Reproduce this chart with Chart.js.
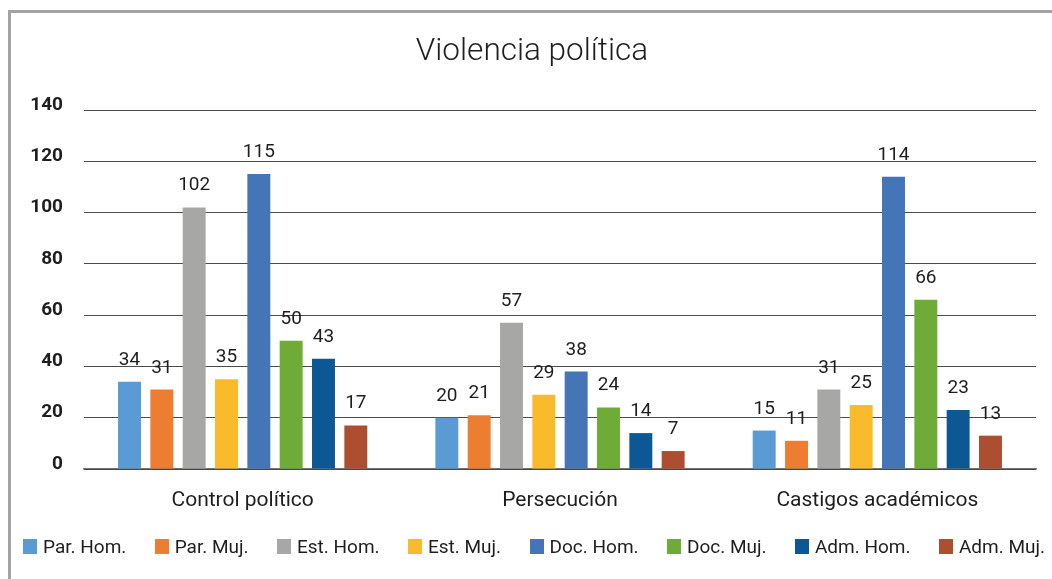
<!DOCTYPE html>
<html>
<head>
<meta charset="utf-8">
<script src="https://cdn.jsdelivr.net/npm/chart.js@4/dist/chart.umd.min.js"></script>
<style>
  html, body { margin: 0; padding: 0; background: #fff; overflow: hidden; }
  #wrap { position: relative; width: 1052px; height: 579px; }
  #frame { position: absolute; left: 8px; top: 10px; width: 1100px; height: 620px;
           border-top: 3px solid #a3a3a3; border-left: 3px solid #a3a3a3; pointer-events: none; }
  canvas { position: absolute; left: 0; top: 0; }
</style>
</head>
<body>
<div id="wrap">
  <canvas id="c" width="1052" height="579"></canvas>
  <div id="frame"></div>
</div>
<script>
const categories = ['Control político', 'Persecución', 'Castigos académicos'];
const seriesNames = ['Par. Hom.', 'Par. Muj.', 'Est. Hom.', 'Est. Muj.', 'Doc. Hom.', 'Doc. Muj.', 'Adm. Hom.', 'Adm. Muj.'];
const parHom = [34, 20, 15];
const parMuj = [31, 21, 11];
const estHom = [102, 57, 31];
const estMuj = [35, 29, 25];
const docHom = [115, 38, 114];
const docMuj = [50, 24, 66];
const admHom = [43, 14, 23];
const admMuj = [17, 7, 13];
const yTicks = [0, 20, 40, 60, 80, 100, 120, 140];
const colors = ['#5B9BD5', '#ED7D31', '#A7A7A6', '#F9BA2C', '#4375B7', '#6EAC37', '#0C5895', '#AC4F31'];

const seriesValues = [parHom, parMuj, estHom, estMuj, docHom, docMuj, admHom, admMuj];
const FONT = "Roboto, 'DejaVu Sans', sans-serif";

const valueLabels = {
  id: 'valueLabels',
  afterDatasetsDraw(chart) {
    const ctx = chart.ctx;
    ctx.save();
    ctx.font = '19px ' + FONT;
    ctx.fillStyle = '#1e1e1e';
    ctx.textAlign = 'center';
    ctx.textBaseline = 'alphabetic';
    chart.data.datasets.forEach((ds, di) => {
      const meta = chart.getDatasetMeta(di);
      meta.data.forEach((el, i) => {
        ctx.fillText(String(ds.data[i]), el.x, el.y - 17);
      });
    });
    ctx.restore();
  }
};

// Legend drawn from the chart's own datasets, spread across the full width
const spreadLegend = {
  id: 'spreadLegend',
  afterDraw(chart) {
    const ctx = chart.ctx;
    const start = 23, end = 1045, yc = 547, boxW = 14, boxH = 15, textGap = 6;
    ctx.save();
    ctx.font = '19px ' + FONT;
    const items = chart.data.datasets.map(ds => ({
      text: ds.label, color: ds.backgroundColor, w: ctx.measureText(ds.label).width
    }));
    const total = items.reduce((s, it) => s + boxW + textGap + it.w, 0);
    const gap = (end - start - total) / (items.length - 1);
    let x = start;
    ctx.textBaseline = 'middle';
    ctx.textAlign = 'left';
    items.forEach(it => {
      ctx.fillStyle = it.color;
      ctx.fillRect(Math.round(x), yc - 8, boxW, boxH);
      ctx.fillStyle = '#1e1e1e';
      ctx.fillText(it.text, x + boxW + textGap, yc + 1);
      x += boxW + textGap + it.w + gap;
    });
    ctx.restore();
  }
};

new Chart(document.getElementById('c'), {
  type: 'bar',
  data: {
    labels: categories,
    datasets: seriesNames.map((name, i) => ({
      label: name,
      data: seriesValues[i],
      backgroundColor: colors[i],
      borderWidth: 0,
      categoryPercentage: 0.815,
      barPercentage: 0.71
    }))
  },
  options: {
    responsive: false,
    animation: false,
    devicePixelRatio: 1,
    layout: { padding: { left: 28, right: 16, top: 0, bottom: 60 } },
    plugins: {
      title: {
        display: true,
        text: 'Violencia política',
        color: '#1e1e1e',
        font: { family: FONT, size: 31.5, weight: '300' },
        padding: { top: 33, bottom: 39.2 }
      },
      legend: { display: false },
      tooltip: { enabled: false }
    },
    scales: {
      x: {
        z: 1,
        grid: { display: false, drawTicks: false },
        border: { display: true, color: 'rgba(70,70,70,0.75)', width: 1.5 },
        ticks: { color: '#1e1e1e', font: { family: FONT, size: 21 }, padding: 19 },
        afterFit(scale) { scale.height = 50; }
      },
      y: {
        min: 0,
        max: 140,
        afterBuildTicks(scale) { scale.ticks = yTicks.map(v => ({ value: v })); },
        grid: { color: '#4a4a4a', lineWidth: 1, drawTicks: false },
        border: { display: false },
        ticks: { color: '#1e1e1e', font: { family: FONT, size: 19, weight: 'bold' }, padding: 21, labelOffset: -5 },
        afterFit(scale) { scale.width = 56; }
      }
    }
  },
  plugins: [valueLabels, spreadLegend]
});
</script>
</body>
</html>
